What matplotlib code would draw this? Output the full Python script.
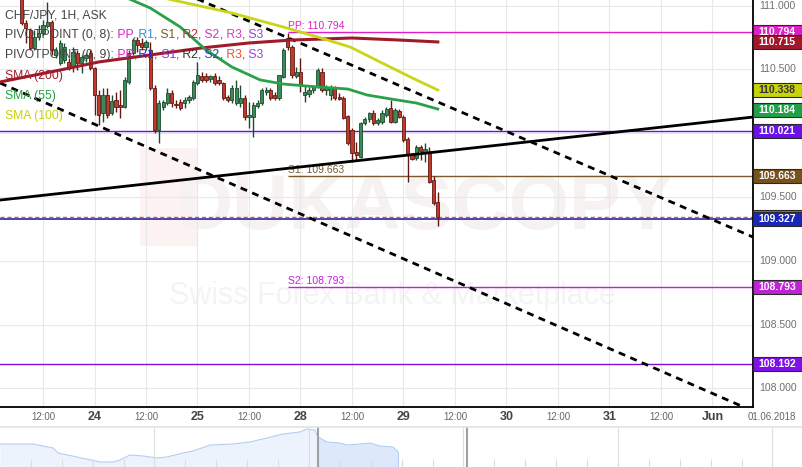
import numpy as np
import matplotlib
matplotlib.use('Agg')
import matplotlib.pyplot as plt
from matplotlib.patches import Rectangle
from matplotlib.transforms import blended_transform_factory

plt.rcParams['font.family'] = ['Liberation Sans', 'DejaVu Sans']

# --- CHF/JPY 1H candles (hour index, 0 = 24 May 00:00, weekends skipped) ---
first_hour = -17
opens = [111.084, 110.865, 110.810, 110.669, 110.755, 110.786, 110.841, 110.872, 110.614, 110.551,
         110.575, 110.559, 110.520, 110.629, 110.551, 110.590, 110.629,
         110.512, 110.300, 110.159, 110.300, 110.159, 110.261, 110.221, 110.206, 110.402, 110.629,
         110.731, 110.708, 110.676, 110.653, 110.355, 110.025, 110.206, 110.237, 110.316, 110.229,
         110.245, 110.237, 110.261, 110.276, 110.394, 110.449, 110.449, 110.426, 110.449, 110.418,
         110.394, 110.284, 110.261, 110.237, 110.237, 110.276, 110.127, 110.127, 110.214, 110.237,
         110.323, 110.339, 110.300, 110.276, 110.441, 110.747, 110.676, 110.449, 110.480, 110.300,
         110.308, 110.339, 110.363, 110.480, 110.339, 110.300, 110.355, 110.284, 110.276, 110.135,
         110.025, 109.853, 109.814, 110.080, 110.112, 110.159, 110.080, 110.088, 110.143, 110.198,
         110.088, 110.174, 110.127, 109.955, 109.829, 109.806, 109.892, 109.845, 109.853, 109.633,
         109.461]
highs = [111.163, 110.888, 110.825, 110.810, 110.849, 110.888, 111.029, 110.888, 110.676, 110.731,
         110.708, 110.590, 110.676, 110.653, 110.614, 110.629, 110.653,
         110.520, 110.339, 110.355, 110.355, 110.300, 110.323, 110.339, 110.441, 110.653, 110.747,
         110.755, 110.747, 110.731, 110.716, 110.378, 110.261, 110.261, 110.355, 110.339, 110.261,
         110.269, 110.284, 110.300, 110.418, 110.559, 110.480, 110.473, 110.457, 110.473, 110.449,
         110.402, 110.300, 110.378, 110.418, 110.378, 110.300, 110.245, 110.245, 110.261, 110.355,
         110.363, 110.355, 110.323, 110.457, 110.669, 110.786, 110.692, 110.520, 110.590, 110.378,
         110.363, 110.378, 110.512, 110.512, 110.378, 110.378, 110.371, 110.316, 110.292, 110.143,
         110.041, 109.931, 110.088, 110.127, 110.167, 110.182, 110.120, 110.182, 110.206, 110.261,
         110.198, 110.190, 110.143, 109.970, 109.845, 109.908, 109.908, 109.923, 109.892, 109.665,
         109.539]
lows = [110.849, 110.708, 110.653, 110.653, 110.731, 110.770, 110.825, 110.614, 110.590, 110.535,
        110.551, 110.496, 110.480, 110.496, 110.473, 110.559, 110.496,
        110.143, 110.065, 110.088, 110.120, 110.143, 110.167, 110.120, 110.198, 110.386, 110.614,
        110.637, 110.653, 110.653, 110.339, 110.002, 109.923, 110.182, 110.221, 110.206, 110.198,
        110.182, 110.198, 110.237, 110.261, 110.378, 110.402, 110.402, 110.402, 110.378, 110.378,
        110.261, 110.245, 110.237, 110.221, 110.206, 110.104, 110.041, 109.970, 110.198, 110.221,
        110.300, 110.261, 110.261, 110.261, 110.433, 110.653, 110.433, 110.433, 110.323, 110.245,
        110.284, 110.316, 110.355, 110.323, 110.300, 110.261, 110.261, 110.261, 110.112, 109.908,
        109.774, 109.790, 109.806, 110.065, 110.088, 110.065, 110.065, 110.073, 110.127, 110.080,
        110.080, 110.120, 109.931, 109.618, 109.790, 109.790, 109.790, 109.774, 109.610, 109.437,
        109.272]
closes = [110.865, 110.825, 110.669, 110.755, 110.786, 110.849, 110.872, 110.653, 110.653, 110.708,
          110.676, 110.512, 110.637, 110.551, 110.598, 110.614, 110.512,
          110.300, 110.143, 110.300, 110.143, 110.253, 110.206, 110.206, 110.418, 110.629, 110.731,
          110.692, 110.676, 110.716, 110.355, 110.025, 110.237, 110.245, 110.316, 110.237, 110.225,
          110.198, 110.261, 110.284, 110.402, 110.457, 110.418, 110.418, 110.449, 110.394, 110.394,
          110.276, 110.261, 110.355, 110.355, 110.276, 110.127, 110.143, 110.221, 110.237, 110.339,
          110.339, 110.276, 110.276, 110.457, 110.653, 110.676, 110.457, 110.480, 110.378, 110.323,
          110.339, 110.363, 110.496, 110.339, 110.355, 110.355, 110.276, 110.269, 110.120, 109.923,
          109.845, 109.829, 110.080, 110.112, 110.159, 110.080, 110.104, 110.159, 110.190, 110.088,
          110.182, 110.127, 109.947, 109.829, 109.798, 109.892, 109.861, 109.876, 109.618, 109.453,
          109.343]

# moving averages (hour, value)
sma200_h = [-22, -15, -8, 1, 13, 25, 36, 46, 60, 71, 80]
sma200_v = [110.402, 110.449, 110.496, 110.559, 110.614, 110.669, 110.708, 110.731, 110.747, 110.731, 110.716]
sma55_h = [6, 13, 20, 26, 32, 38.6, 44, 52, 59, 63.5, 69, 75, 80]
sma55_v = [111.084, 110.982, 110.833, 110.653, 110.520, 110.418, 110.386, 110.363, 110.347, 110.300, 110.269, 110.237, 110.190]
sma100_h = [15, 32, 44, 52, 59.6, 67, 75, 80]
sma100_v = [111.069, 110.943, 110.833, 110.755, 110.676, 110.551, 110.418, 110.339]

# drawn trend lines (two anchors each)
trend_h = [-22.02, 153.44]
trend_v = [109.476, 110.127]
chan_up_h = [20, 153.44]
chan_up_v = [111.110, 109.186]
chan_lo_h = [-22.02, 153.44]
chan_lo_v = [110.394, 107.821]

# pivot levels
pivot_start = 45
pp, s1, s2 = 110.794, 109.663, 108.793

# right-side price tags: value, fill colour, text colour ('' = hidden under the next tag)
tags = [(110.794, '#e01ec8', 'white'), (110.715, '#a0182a', 'white'), (110.338, '#c8d40a', '#333333'),
        (110.184, '#22a048', 'white'), (110.021, '#6a10e8', 'white'), (109.663, '#76531e', 'white'),
        (109.343, '#e0503a', ''), (109.327, '#1a26b8', 'white'), (108.793, '#c020d8', 'white'),
        (108.192, '#8010e8', 'white')]

y_ticks = [108.0, 108.5, 109.0, 109.5, 110.0, 110.5, 111.0]
y_tick_labels = ['108.000', '108.500', '109.000', '109.500', '', '110.500', '111.000']
x_ticks = [-12, 0, 12, 24, 36, 48, 60, 72, 84, 96, 108, 120, 132, 144]
x_tick_labels = ['12:00', '24', '12:00', '25', '12:00', '28', '12:00', '29', '12:00', '30', '12:00', '31', '12:00', 'Jun']

# navigator series (day position, level)
nav_day = [0, 1.07, 1.72, 1.88, 2.49, 3.24, 3.66, 3.88, 4.21, 4.63, 5.08, 5.40, 5.92, 6.25, 6.80, 7.54,
           8.09, 8.64, 9.16, 9.71, 9.94, 10.19, 10.29, 10.58, 11.0, 11.23, 11.65, 11.97, 12.30, 12.72, 12.88]
nav_level = [23, 23, 19, 14, 10, 5, 5, 7, 12, 11, 9, 10, 14, 16, 22, 23,
             25, 29, 33, 35, 38, 37, 30, 25, 24, 22, 23, 24, 21, 20, 15]
nav_sel = (10.29, 15.11)

W, H = 803, 467
AW, AH = 753, 407
fig = plt.figure(figsize=(W / 100, H / 100), dpi=100)
ax = fig.add_axes([0, (H - AH) / H, AW / W, AH / H])
ax.set_xlim(-22.02, 153.44)
ax.set_ylim(107.853, 111.045)
ax.set_xticks(x_ticks)
ax.set_yticks(y_ticks)
ax.grid(True, color='#e8e8e8', lw=0.8)
ax.set_axisbelow(True)
ax.tick_params(length=0, labelbottom=False, labelleft=False)
for s in ['left', 'top']:
    ax.spines[s].set_visible(False)
for s in ['right', 'bottom']:
    ax.spines[s].set_color('black')
    ax.spines[s].set_linewidth(1.3)

# watermark (below the grid)
ax.add_patch(Rectangle((140 / AW, 1 - 246 / AH), 58 / AW, 98 / AH, transform=ax.transAxes,
                       fc='#fcf2f2', ec='none', zorder=0.1))
ax.text(425 / AW, 1 - 208 / AH, 'DUKASCOPY', transform=ax.transAxes, fontsize=56, fontweight='bold',
        color='#f7f2f2', ha='center', va='center', zorder=0.1)
ax.text(392 / AW, 1 - 296 / AH, 'Swiss Forex Bank & Marketplace', transform=ax.transAxes, fontsize=22,
        color='#f4f4f4', ha='center', va='center', zorder=0.1)

# candles
hours = np.arange(len(opens)) + first_hour
o, hi, lo, c = map(np.array, (opens, highs, lows, closes))
up = c >= o
body_col = np.where(up, '#3b8a57', '#c0392b')
edge_col = np.where(up, '#1e4a30', '#5e1a12')
ax.vlines(hours, lo, hi, colors=edge_col, lw=1, zorder=3)
ax.bar(hours, np.maximum(np.abs(c - o), 0.006), bottom=np.minimum(o, c), width=0.75,
       color=body_col, edgecolor=edge_col, linewidth=0.6, zorder=4)

# horizontal levels
ax.axhline(110.021, color='#6a12e0', lw=1, zorder=2)
ax.axhline(108.192, color='#7a10d8', lw=1, zorder=2)
ax.axhline(109.327, color='#1a26b8', lw=1.2, zorder=2)
ax.axhline(109.343, color='#e8503a', lw=1, ls=(0, (3, 2)), zorder=2)
for lvl, col, name in [(pp, '#e01ec8', 'PP'), (s1, '#7a5a2a', 'S1'), (s2, '#c41ed8', 'S2')]:
    ax.hlines(lvl, pivot_start, 153.44, color=col, lw=1, zorder=2)
    ax.text(pivot_start + 0.2, lvl + 0.01, f'{name}: {lvl:.3f}', color=col, fontsize=7.5,
            ha='left', va='bottom', zorder=5)

# trend lines and SMAs
ax.plot(trend_h, trend_v, color='black', lw=2, zorder=5)
ax.plot(chan_up_h, chan_up_v, color='black', lw=2, ls=(0, (2.5, 2)), zorder=5)
ax.plot(chan_lo_h, chan_lo_v, color='black', lw=2, ls=(0, (2.5, 2)), zorder=5)
ax.plot(sma200_h, sma200_v, color='#9e1b2a', lw=2.2, zorder=6)
ax.plot(sma55_h, sma55_v, color='#2aa148', lw=2, zorder=6)
ax.plot(sma100_h, sma100_v, color='#c8d616', lw=2, zorder=6)

# axis labels
ry = blended_transform_factory(ax.transAxes, ax.transData)
for v, lab in zip(y_ticks, y_tick_labels):
    ax.text(1 + 6 / AW, v, lab, transform=ry, fontsize=7.5, color='#707070', va='center', ha='left')
bx = blended_transform_factory(ax.transData, ax.transAxes)
for h, lab in zip(x_ticks, x_tick_labels):
    if lab == '12:00':
        ax.text(h, -10 / AH, lab, transform=bx, fontsize=7, color='#666666', ha='center', va='center', clip_on=False)
    else:
        ax.text(h, -10 / AH, lab, transform=bx, fontsize=9, fontweight='bold', color='#444444',
                ha='center', va='center', clip_on=False)
fig.text(772 / W, 1 - 417 / H, '01.06.2018', fontsize=7, color='#666666', ha='center', va='center')

# price tags
hh = 7 / 127.5
for i, (v, fc, tc) in enumerate(tags):
    ax.add_patch(Rectangle((1.0, v - hh), 49 / AW, 2 * hh, transform=ry, clip_on=False,
                           fc=fc, ec='#2a2a2a', lw=0.8, zorder=20 + 2 * i))
    if tc:
        ax.text(1 + 5 / AW, v, f'{v:.3f}', transform=ry, fontsize=7.5, fontweight='bold', color=tc,
                va='center', ha='left', zorder=21 + 2 * i)

# legend lines (multi-coloured)
renderer = fig.canvas.get_renderer()
grey = '#444444'


def rich(x, y, parts, size=8.7):
    prefix = ''
    for s, col in parts:
        if prefix:
            t0 = fig.text(0, 0, prefix, fontsize=size)
            dx = t0.get_window_extent(renderer).width
            t0.remove()
        else:
            dx = 0
        fig.text((x + dx) / W, 1 - y / H, s, fontsize=size, color=col, ha='left', va='center', zorder=30)
        prefix += s


def pivot_parts(title, cols):
    parts = [(title, grey)]
    for i, (name, col) in enumerate(zip(['PP', 'R1', 'S1', 'R2', 'S2', 'R3', 'S3'], cols)):
        parts.append((' ' + name, col))
        if i < 6:
            parts.append((',', grey))
    return parts


rich(5, 15, [('CHF/JPY, 1H, ASK', grey)])
rich(5, 35, pivot_parts('PIVOTPOINT (0, 8):', ['#e020c0', '#2b8fe0', '#7a5a2a', '#b02a3a', '#d030d0', '#d040c0', '#9040e0']))
rich(5, 55, pivot_parts('PIVOTPOINT (0, 9):', ['#e020c0', '#2030e0', '#8a30e0', '#333333', '#2a3ab0', '#f05030', '#9a40e0']))
rich(5, 76, [('SMA (200)', '#a01c2c')])
rich(5, 96, [('SMA (55)', '#20a040')])
rich(5, 116, [('SMA (100)', '#c5d400')])

# navigator
nav = fig.add_axes([0, 0, 1, 40 / H])
nav.set_xlim(0, W / 30.9)
nav.set_ylim(0, 40)
nav.axis('off')
nd, nl = np.array(nav_day), np.array(nav_level)
nav.fill_between(nd, nl, color='#edf3fd', lw=0)
nav.fill_between(nd, nl, where=nd >= nav_sel[0], color='#dde8fb', lw=0)
nav.plot(nd, nl, color='#b3cdf3', lw=0.8)
nav.vlines(nd[-1], 0, nl[-1], color='#b3cdf3', lw=0.8)
for d in range(1, 26):
    top = 39 if d % 5 == 0 else 8
    nav.vlines(d, 0, top, color='#dddddd', lw=0.8)
for xs in nav_sel:
    nav.vlines(xs, 0, 40, color='#a0a0a0', lw=1.5)
nav.axhline(40, color='#e2e2e2', lw=1.2, clip_on=False)

fig.savefig('out.png', dpi=100)
